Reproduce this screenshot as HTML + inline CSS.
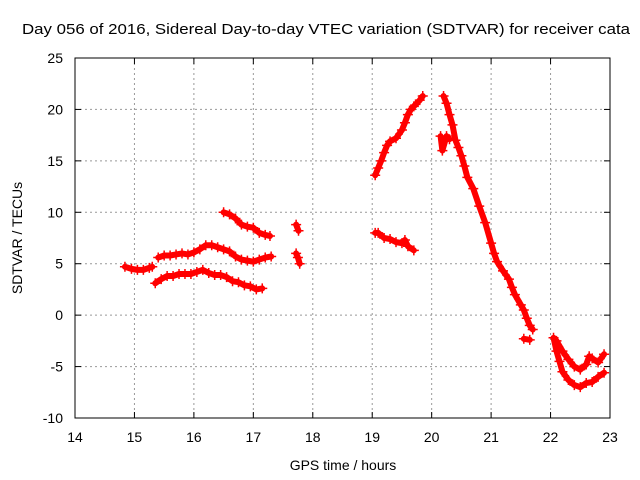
<!DOCTYPE html>
<html><head><meta charset="utf-8"><style>
body{margin:0;background:#fff}
svg{display:block;font-family:"Liberation Sans",sans-serif}
</style></head><body>
<svg id="chart" width="640" height="480">
<text x="22" y="34" font-size="15" textLength="608" lengthAdjust="spacingAndGlyphs">Day 056 of 2016, Sidereal Day-to-day VTEC variation (SDTVAR) for receiver cata</text>
<g id="grid"></g>
<g id="series"></g>
<rect x="75" y="58" width="535" height="360" fill="none" stroke="#000"/>
<g id="ticks"></g>
<text x="343" y="470" font-size="14" text-anchor="middle">GPS time / hours</text>
<text transform="translate(22,238) rotate(-90)" font-size="14" text-anchor="middle">SDTVAR / TECUs</text>
</svg>
<script>
const xTicks=[14,15,16,17,18,19,20,21,22,23];
const yTicks=[-10,-5,0,5,10,15,20,25];
const seg1=[[14.84,4.7],[14.95,4.5],[15.05,4.4],[15.15,4.4],[15.25,4.6],[15.3,4.7]];
const seg2=[[15.4,5.6],[15.5,5.8],[15.6,5.8],[15.7,5.9],[15.8,6.0],[15.9,5.9],[16.0,6.1],[16.1,6.4],[16.2,6.8],[16.3,6.8],[16.4,6.6],[16.5,6.4],[16.6,6.2],[16.7,5.7],[16.8,5.4],[16.9,5.3],[17.0,5.2],[17.1,5.4],[17.2,5.6],[17.3,5.7]];
const seg3=[[15.35,3.1],[15.45,3.5],[15.55,3.8],[15.65,3.8],[15.75,4.0],[15.85,4.0],[15.95,4.0],[16.05,4.2],[16.15,4.4],[16.25,4.1],[16.35,3.9],[16.45,3.9],[16.55,3.7],[16.65,3.3],[16.75,3.2],[16.85,2.9],[16.95,2.8],[17.05,2.5],[17.15,2.6]];
const seg4=[[16.5,10.0],[16.6,9.8],[16.7,9.4],[16.8,8.8],[16.9,8.6],[17.0,8.5],[17.1,8.0],[17.2,7.8],[17.28,7.7]];
const seg5a=[[17.72,8.8],[17.76,8.2]];
const seg5b=[[17.72,6.0],[17.75,5.6],[17.78,5.0]];
const seg6=[[19.05,13.6],[19.1,14.3],[19.15,15.0],[19.2,15.8],[19.25,16.5],[19.3,16.9],[19.4,17.2],[19.5,18.0],[19.55,18.7],[19.6,19.5],[19.65,20.0],[19.7,20.3],[19.8,20.9],[19.85,21.3]];
const seg7=[[19.05,8.0],[19.1,8.0],[19.2,7.5],[19.3,7.4],[19.4,7.1],[19.5,7.0],[19.55,7.3],[19.6,6.7],[19.7,6.3]];
const seg8=[[20.2,21.3],[20.25,20.6],[20.3,19.5],[20.35,18.5],[20.4,17.0],[20.45,16.3],[20.5,15.5],[20.55,14.5],[20.6,13.4],[20.7,12.3],[20.8,10.6],[20.9,9.0],[21.0,7.0],[21.05,6.0],[21.1,5.2],[21.2,4.3],[21.3,3.5],[21.35,2.7],[21.4,2.0],[21.5,1.0],[21.55,0.5],[21.6,-0.3],[21.65,-1.0],[21.7,-1.4]];
const seg8b=[[20.15,17.4],[20.18,16.0],[20.25,17.4],[20.3,17.1]];
const seg9=[[21.55,-2.3],[21.65,-2.4]];
const seg10=[[22.05,-2.2],[22.1,-3.5],[22.15,-4.5],[22.2,-5.5],[22.3,-6.3],[22.4,-6.8],[22.5,-7.0],[22.6,-6.6],[22.7,-6.5],[22.8,-6.0],[22.9,-5.6]];
const seg10b=[[22.1,-2.5],[22.2,-3.5],[22.3,-4.3],[22.4,-5.0],[22.5,-5.3],[22.6,-4.8],[22.65,-4.0],[22.7,-4.2],[22.8,-4.6],[22.9,-3.8]];
const segments=[seg1,seg2,seg3,seg4,seg5a,seg5b,seg6,seg7,seg8,seg8b,seg9,seg10,seg10b];
const NS='http://www.w3.org/2000/svg';
const X=t=>75+(t-14)*535/9, Y=v=>58+(25-v)*360/35;
function mk(tag,a,p){const e=document.createElementNS(NS,tag);for(const k in a)e.setAttribute(k,a[k]);p.appendChild(e);return e;}
const grid=document.getElementById('grid'),ticks=document.getElementById('ticks'),ser=document.getElementById('series');
xTicks.forEach(t=>{const x=X(t);
 if(t>14&&t<23){const l=mk('line',{x1:x,y1:58,x2:x,y2:418,stroke:'#999','stroke-dasharray':'2,3'},grid);}
 mk('line',{x1:x,y1:418,x2:x,y2:412,stroke:'#000'},ticks);mk('line',{x1:x,y1:58,x2:x,y2:64,stroke:'#000'},ticks);
 const tx=mk('text',{x:x,y:442,'font-size':14,'text-anchor':'middle'},ticks);tx.textContent=t;
 });
yTicks.forEach(v=>{const y=Y(v);
 if(v>-10&&v<25){const l=mk('line',{x1:75,y1:y,x2:610,y2:y,stroke:'#999','stroke-dasharray':'2,3'},grid);}
 mk('line',{x1:75,y1:y,x2:81,y2:y,stroke:'#000'},ticks);mk('line',{x1:610,y1:y,x2:604,y2:y,stroke:'#000'},ticks);
 const tx=mk('text',{x:63,y:y+5,'font-size':14,'text-anchor':'end'},ticks);tx.textContent=v;
 });
segments.forEach(s=>{
 const pl=mk('polyline',{points:s.map(p=>X(p[0])+','+Y(p[1])).join(' '),fill:'none',stroke:'#f00','stroke-width':6,'stroke-linejoin':'round','stroke-linecap':'round'},ser);
 
 s.forEach(p=>{const x=X(p[0]),y=Y(p[1]);
  const m=mk('path',{d:`M${x-5},${y}H${x+5}M${x},${y-5}V${y+5}`,stroke:'#f00','stroke-width':1.5},ser);
  });
});
</script>
</body></html>
